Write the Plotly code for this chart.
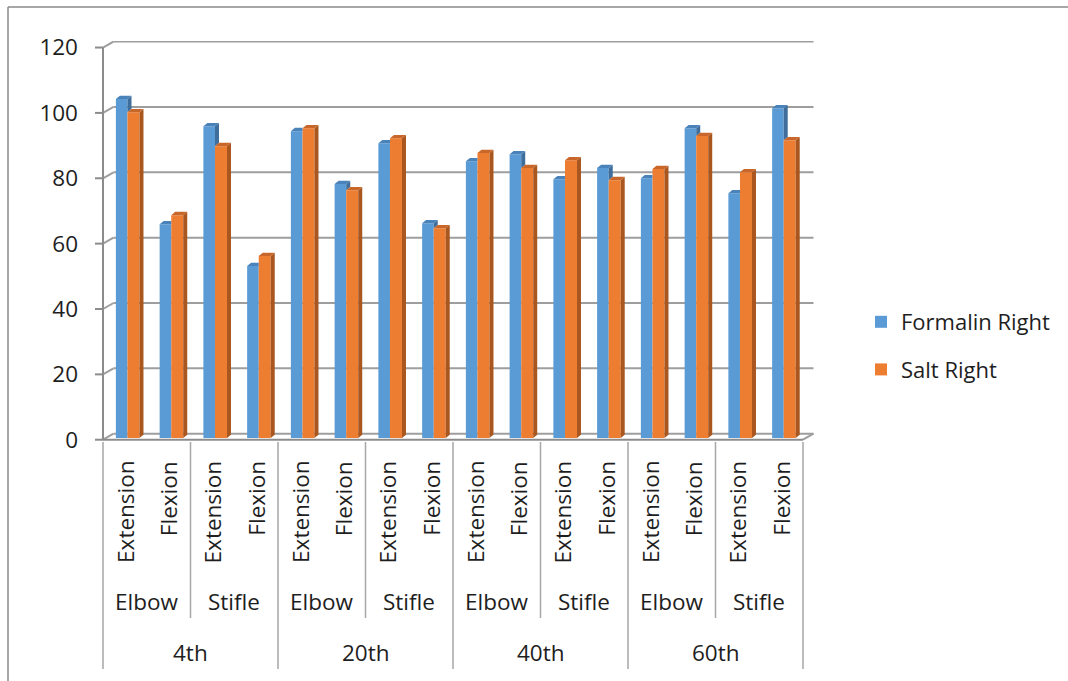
import plotly.graph_objects as go

# ---------------- data ----------------
time_points = ["4th", "20th", "40th", "60th"]
joints = ["Elbow", "Stifle"]
movements = ["Extension", "Flexion"]
series_names = ["Formalin Right", "Salt Right"]
formalin_right = [103.7, 65.4, 95.4, 52.6, 93.9, 77.7, 90.2, 65.7,
                  84.7, 86.8, 79.2, 82.6, 79.5, 94.8, 74.9, 100.9]
salt_right = [99.7, 68.2, 89.3, 55.7, 94.8, 75.8, 91.7, 64.2,
              87.2, 82.6, 85.0, 78.9, 82.3, 92.4, 81.3, 91.1]
y_ticks = [0, 20, 40, 60, 80, 100, 120]

# ---------------- style / geometry ----------------
BLUE, BLUE_SIDE, BLUE_TOP = "#5B9BD5", "#3F6E9C", "#4A83BA"
ORANGE, ORANGE_SIDE, ORANGE_TOP = "#ED7D31", "#A9561F", "#C9672A"
GRID = "#9e9e9e"
AXIS = "#8c8c8c"
TXT = "#1e1e1e"
FONT = "Open Sans"
FS = 22.5

W, H = 1068, 681
L, RM, T, B = 101, 246, 41, 238
plot_w = W - L - RM
plot_h = H - T - B
KX = 43.75
X0 = -0.5 - 2 / KX
X1 = X0 + plot_w / KX
Y0, Y1 = -1.0, 122.0
KY = plot_h / (Y1 - Y0)


def dx(px):
    return px / KX


def dy(px):
    return px / KY


def paper_x(px):
    return (px - L) / plot_w


def paper_y(py):
    return (T + plot_h - py) / plot_h


n = len(formalin_right)
xs = list(range(n))
first, last = -0.5, n - 0.5
bw_b, bw_o = dx(11.6), dx(12.0)
off_b = dx(-9.0)
off_o = off_b + bw_b
base = dy(1.7)
sd, sh = dx(4.0), dy(3.3)
wall_dx, wall_dy = dx(10.5), dy(6.0)

fig = go.Figure()

# front faces
fig.add_trace(go.Bar(x=xs, y=formalin_right, base=base, width=bw_b, offset=off_b,
                     marker=dict(color=BLUE, line=dict(width=0)),
                     name=series_names[0], legendgroup="a"))
fig.add_trace(go.Bar(x=xs, y=salt_right, base=base, width=bw_o, offset=off_o,
                     marker=dict(color=ORANGE, line=dict(width=0)),
                     name=series_names[1], legendgroup="b"))

# 3D side and top faces
b_side_x, b_side_y, b_top_x, b_top_y = [], [], [], []
o_side_x, o_side_y, o_top_x, o_top_y = [], [], [], []
for i in xs:
    bL = i + off_b
    bR = bL + bw_b
    oL = i + off_o
    oR = oL + bw_o
    bT = base + formalin_right[i]
    oT = base + salt_right[i]
    if bT > oT:
        b_side_x += [bR, bR + sd, bR + sd, bR, None]
        b_side_y += [oT, oT + sh, bT + sh, bT, None]
        b_top_x += [bL, bL + sd, bR + sd, bR, None]
        b_top_y += [bT, bT + sh, bT + sh, bT, None]
    else:
        b_top_x += [bL, bL + sd, bR, bR, None]
        b_top_y += [bT, bT + sh, bT + sh, bT, None]
    o_side_x += [oR, oR + sd, oR + sd, oR, None]
    o_side_y += [base, base + sh, oT + sh, oT, None]
    o_top_x += [oL, oL + sd, oR + sd, oR, None]
    o_top_y += [oT, oT + sh, oT + sh, oT, None]

for px_, py_, col in [(b_side_x, b_side_y, BLUE_SIDE), (b_top_x, b_top_y, BLUE_TOP),
                      (o_side_x, o_side_y, ORANGE_SIDE), (o_top_x, o_top_y, ORANGE_TOP)]:
    fig.add_trace(go.Scatter(x=px_, y=py_, mode="lines", fill="toself",
                             fillcolor=col, line=dict(width=0, color=col),
                             showlegend=False, hoverinfo="skip"))

shapes = []
# back wall gridlines and left-wall diagonals
for v in y_ticks:
    shapes.append(dict(type="line", xref="x", yref="y", layer="below",
                       x0=first + wall_dx, x1=last + wall_dx,
                       y0=v + wall_dy, y1=v + wall_dy,
                       line=dict(color=GRID, width=2)))
    shapes.append(dict(type="line", xref="x", yref="y", layer="below",
                       x0=first, x1=first + wall_dx, y0=v, y1=v + wall_dy,
                       line=dict(color=GRID, width=2)))
    # y tick marks
    shapes.append(dict(type="line", xref="paper", yref="y", layer="below",
                       x0=paper_x(95), x1=paper_x(103), y0=v, y1=v,
                       line=dict(color=AXIS, width=2)))
# floor right diagonal, front floor line, front vertical axis
shapes.append(dict(type="line", xref="x", yref="y", layer="below",
                   x0=last, x1=last + wall_dx, y0=0, y1=wall_dy,
                   line=dict(color=GRID, width=2)))
shapes.append(dict(type="line", xref="x", yref="y", layer="below",
                   x0=first, x1=last, y0=0, y1=0, line=dict(color=AXIS, width=2)))
shapes.append(dict(type="line", xref="x", yref="y", layer="below",
                   x0=first, x1=first, y0=0, y1=y_ticks[-1],
                   line=dict(color=AXIS, width=2)))

# category dividers below the axis
for k in range(0, n + 1, 2):
    long_div = (k % 4 == 0)
    shapes.append(dict(type="line", xref="x", yref="paper",
                       x0=k - 0.5, x1=k - 0.5,
                       y0=paper_y(442), y1=paper_y(669 if long_div else 618),
                       line=dict(color="#a6a6a6", width=1.5)))

# outer frame (top and left edges visible; the rest runs off the page)
shapes.append(dict(type="line", xref="paper", yref="paper",
                   x0=paper_x(8), x1=paper_x(1400), y0=paper_y(7), y1=paper_y(7),
                   line=dict(color="#8a8a8a", width=1.5)))
shapes.append(dict(type="line", xref="paper", yref="paper",
                   x0=paper_x(8), x1=paper_x(8), y0=paper_y(7), y1=paper_y(900),
                   line=dict(color="#8a8a8a", width=1.5)))

annotations = []
for i in xs:
    annotations.append(dict(x=i, y=paper_y(459), xref="x", yref="paper",
                            text=movements[i % 2], textangle=-90, showarrow=False,
                            xanchor="center", yanchor="top",
                            font=dict(family=FONT, size=FS, color=TXT)))
for j in range(n // 2):
    annotations.append(dict(x=2 * j + 0.5, y=paper_y(601), xref="x", yref="paper",
                            text=joints[j % 2], showarrow=False,
                            xanchor="center", yanchor="middle",
                            font=dict(family=FONT, size=FS, color=TXT)))
for t in range(n // 4):
    annotations.append(dict(x=4 * t + 1.5, y=paper_y(652), xref="x", yref="paper",
                            text=time_points[t], showarrow=False,
                            xanchor="center", yanchor="middle",
                            font=dict(family=FONT, size=FS, color=TXT)))

fig.update_layout(
    width=W, height=H,
    margin=dict(l=L, r=RM, t=T, b=B, pad=0),
    paper_bgcolor="white", plot_bgcolor="white",
    barmode="overlay",
    font=dict(family=FONT, size=FS, color=TXT),
    xaxis=dict(range=[X0, X1], showgrid=False, zeroline=False, showline=False,
               showticklabels=False, ticks="", fixedrange=True),
    yaxis=dict(range=[Y0, Y1], tickvals=y_ticks, ticktext=[str(v) for v in y_ticks],
               showgrid=False, zeroline=False, showline=False, ticks="",
               ticklabelstandoff=22,
               tickfont=dict(family=FONT, size=FS, color=TXT), fixedrange=True),
    showlegend=True,
    legend=dict(x=paper_x(861), y=paper_y(301), xanchor="left", yanchor="top",
                font=dict(family=FONT, size=22, color=TXT),
                tracegroupgap=16, bgcolor="rgba(0,0,0,0)"),
    shapes=shapes,
    annotations=annotations,
)

fig.write_html("out.html")
